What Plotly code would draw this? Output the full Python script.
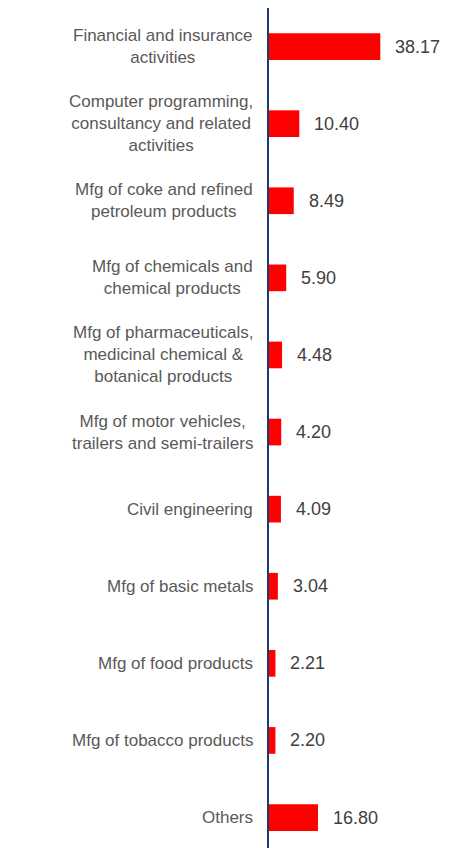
import plotly.graph_objects as go

categories = [
    "Financial and insurance<br>activities",
    "Computer programming,<br>consultancy and related<br>activities",
    "Mfg of coke and refined<br>petroleum products",
    "Mfg of chemicals and<br>chemical products",
    "Mfg of pharmaceuticals,<br>medicinal chemical &<br>botanical products",
    "Mfg of motor vehicles,<br>trailers and semi-trailers",
    "Civil engineering",
    "Mfg of basic metals",
    "Mfg of food products",
    "Mfg of tobacco products",
    "Others",
]
values = [38.17, 10.40, 8.49, 5.90, 4.48, 4.20, 4.09, 3.04, 2.21, 2.20, 16.80]

FONT = "Liberation Sans, Arial, sans-serif"

fig = go.Figure()
fig.add_trace(go.Bar(
    x=values,
    y=categories,
    orientation="h",
    marker=dict(color="#FF0000", line=dict(width=0)),
    hoverinfo="skip",
))

annotations = []
for c, v in zip(categories, values):
    annotations.append(dict(
        x=0, xref="paper", y=c, yref="y",
        text=c, showarrow=False, xanchor="right", yanchor="middle",
        align="center", xshift=-14,
        font=dict(family=FONT, size=17, color="#595959"),
    ))
    annotations.append(dict(
        x=v, xref="x", y=c, yref="y",
        text=f"{v:.2f}", showarrow=False, xanchor="left", yanchor="middle",
        xshift=13,
        font=dict(family=FONT, size=18, color="#404040"),
    ))

fig.update_layout(
    width=459, height=840,
    margin=dict(l=261, r=0, t=0, b=0),
    paper_bgcolor="white", plot_bgcolor="white",
    bargap=0.654,
    showlegend=False,
    xaxis=dict(range=[0, 67.9], showgrid=False, zeroline=False,
               showticklabels=False, showline=False, ticks=""),
    yaxis=dict(type="category", range=[10.395, -0.5], showgrid=False,
               zeroline=False, showticklabels=False, ticks="",
               showline=True, linecolor="#1F3A70", linewidth=2),
    annotations=annotations,
)

fig.write_html("out.html")
